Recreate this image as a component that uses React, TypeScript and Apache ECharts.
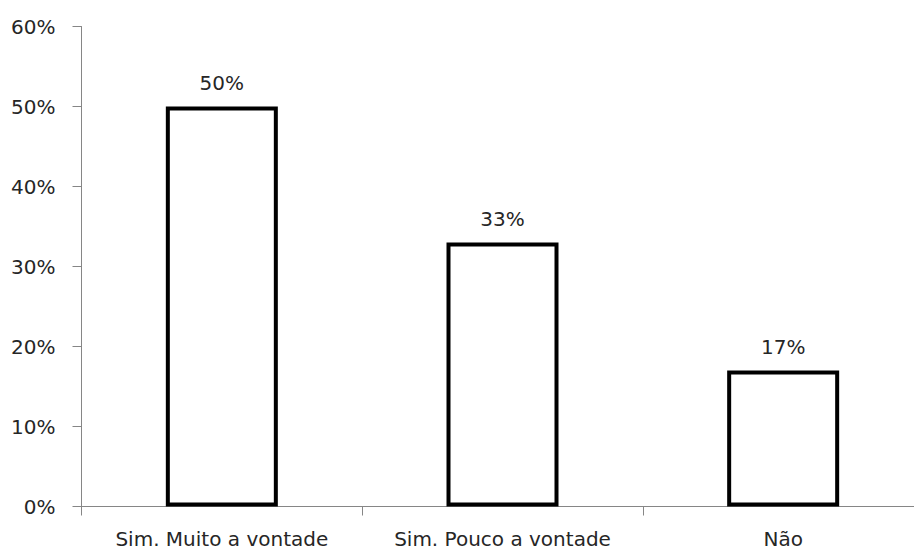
import React, { useEffect, useRef } from "react";
import * as echarts from "echarts";

const categories = ["Sim. Muito a vontade", "Sim. Pouco a vontade", "Não"];
const values = [50, 33, 17];
const yTicks = [0, 10, 20, 30, 40, 50, 60];

export default function App() {
  const ref = useRef<HTMLDivElement>(null);
  useEffect(() => {
    if (!ref.current) return;
    const chart = echarts.init(ref.current, undefined, { renderer: "svg" });
    const font = "'DejaVu Sans', sans-serif";
    chart.setOption({
      animation: false,
      backgroundColor: "#ffffff",
      grid: { left: 81.5, top: 26.5, width: 842, height: 480, containLabel: false },
      xAxis: {
        type: "category",
        data: categories,
        axisLine: { show: true, lineStyle: { color: "#868686", width: 1 } },
        axisTick: { show: true, length: 9, interval: 0, alignWithLabel: false, lineStyle: { color: "#868686" } },
        axisLabel: { color: "#262626", fontSize: 20, fontFamily: font, margin: 22, interval: 0, hideOverlap: false },
        splitLine: { show: false },
      },
      yAxis: {
        type: "value",
        min: yTicks[0],
        max: yTicks[yTicks.length - 1],
        interval: 10,
        axisLine: { show: true, lineStyle: { color: "#868686", width: 1 } },
        axisTick: { show: true, length: 9, lineStyle: { color: "#868686" } },
        axisLabel: { color: "#262626", fontSize: 20, fontFamily: font, margin: 26, formatter: (v: number) => v + "%" },
        splitLine: { show: false },
      },
      series: [
        {
          type: "bar",
          data: values,
          barWidth: 112,
          itemStyle: { color: "#ffffff", borderColor: "#000000", borderWidth: 4 },
          label: {
            show: true,
            position: "top",
            distance: 14,
            color: "#262626",
            fontSize: 20,
            fontFamily: font,
            formatter: (p: any) => p.value + "%",
          },
        },
      ],
    });
    return () => chart.dispose();
  }, []);
  return (
    <div style={{ position: "absolute", left: 0, top: 0, width: 914, height: 551, overflow: "hidden", background: "#fff" }}>
      <div ref={ref} style={{ width: 940, height: 551 }} />
    </div>
  );
}
